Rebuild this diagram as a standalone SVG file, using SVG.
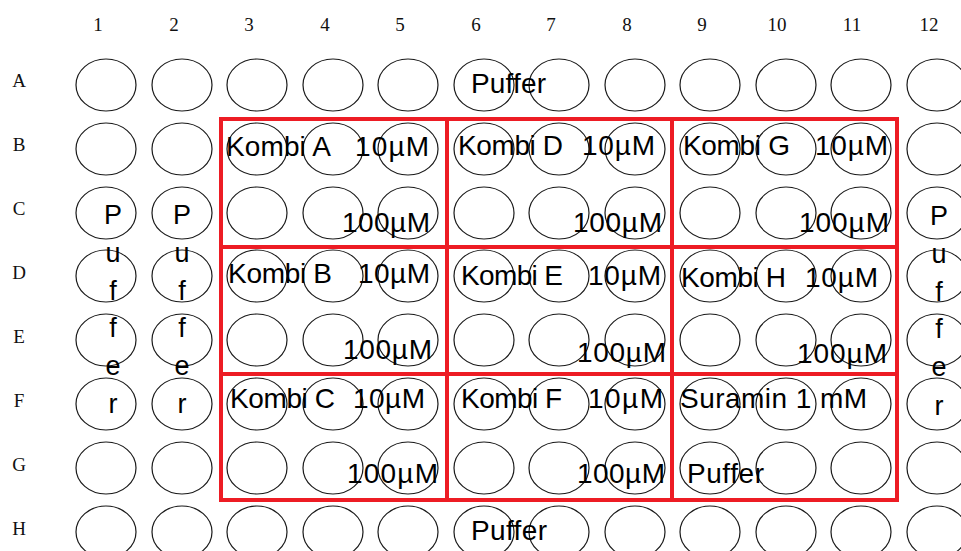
<svg xmlns="http://www.w3.org/2000/svg" xmlns:xlink="http://www.w3.org/1999/xlink" width="961" height="551" viewBox="0 0 961 551">
<style>
.w{fill:none;stroke:#1a1a1a;stroke-width:1.2}
.hd{font-family:"Liberation Serif","Times New Roman",serif;font-size:19px;fill:#111;text-anchor:middle}
.lb{font-family:"Liberation Sans",Arial,sans-serif;font-size:28px;fill:#000}
.vt{font-family:"Liberation Sans",Arial,sans-serif;font-size:27px;fill:#000;text-anchor:middle}
.red{stroke:#ED1C24;stroke-width:4;fill:none;stroke-linecap:square}
</style>
<defs><ellipse id="well" cx="0" cy="0" rx="30" ry="26" class="w"/></defs>
<rect width="961" height="551" fill="#fff"/>
<g id="col-headers">
<text class="hd" x="98" y="31">1</text><text class="hd" x="174" y="31">2</text><text class="hd" x="249" y="31">3</text><text class="hd" x="325" y="31">4</text><text class="hd" x="400" y="31">5</text><text class="hd" x="476" y="31">6</text><text class="hd" x="551" y="31">7</text><text class="hd" x="627" y="31">8</text><text class="hd" x="702" y="31">9</text><text class="hd" x="777" y="31">10</text><text class="hd" x="852" y="31">11</text><text class="hd" x="929" y="31">12</text>
</g>
<g id="row-headers">
<text class="hd" x="19" y="87">A</text><text class="hd" x="19" y="151">B</text><text class="hd" x="19" y="215">C</text><text class="hd" x="19" y="279">D</text><text class="hd" x="19" y="343">E</text><text class="hd" x="19" y="407">F</text><text class="hd" x="19" y="471">G</text><text class="hd" x="19" y="535">H</text>
</g>
<g id="wells">
<g id="A"><use xlink:href="#well" x="106" y="85"/><use xlink:href="#well" x="182" y="85"/><use xlink:href="#well" x="257" y="85"/><use xlink:href="#well" x="333" y="85"/><use xlink:href="#well" x="408" y="85"/><use xlink:href="#well" x="484" y="85"/><use xlink:href="#well" x="559" y="85"/><use xlink:href="#well" x="635" y="85"/><use xlink:href="#well" x="710" y="85"/><use xlink:href="#well" x="786" y="85"/><use xlink:href="#well" x="861" y="85"/><use xlink:href="#well" x="937" y="85"/></g>
<g id="B"><use xlink:href="#well" x="106" y="149"/><use xlink:href="#well" x="182" y="149"/><use xlink:href="#well" x="257" y="149"/><use xlink:href="#well" x="333" y="149"/><use xlink:href="#well" x="408" y="149"/><use xlink:href="#well" x="484" y="149"/><use xlink:href="#well" x="559" y="149"/><use xlink:href="#well" x="635" y="149"/><use xlink:href="#well" x="710" y="149"/><use xlink:href="#well" x="786" y="149"/><use xlink:href="#well" x="861" y="149"/><use xlink:href="#well" x="937" y="149"/></g>
<g id="C"><use xlink:href="#well" x="106" y="213"/><use xlink:href="#well" x="182" y="213"/><use xlink:href="#well" x="257" y="213"/><use xlink:href="#well" x="333" y="213"/><use xlink:href="#well" x="408" y="213"/><use xlink:href="#well" x="484" y="213"/><use xlink:href="#well" x="559" y="213"/><use xlink:href="#well" x="635" y="213"/><use xlink:href="#well" x="710" y="213"/><use xlink:href="#well" x="786" y="213"/><use xlink:href="#well" x="861" y="213"/><use xlink:href="#well" x="937" y="213"/></g>
<g id="D"><use xlink:href="#well" x="106" y="276"/><use xlink:href="#well" x="182" y="276"/><use xlink:href="#well" x="257" y="276"/><use xlink:href="#well" x="333" y="276"/><use xlink:href="#well" x="408" y="276"/><use xlink:href="#well" x="484" y="276"/><use xlink:href="#well" x="559" y="276"/><use xlink:href="#well" x="635" y="276"/><use xlink:href="#well" x="710" y="276"/><use xlink:href="#well" x="786" y="276"/><use xlink:href="#well" x="861" y="276"/><use xlink:href="#well" x="937" y="276"/></g>
<g id="E"><use xlink:href="#well" x="106" y="340"/><use xlink:href="#well" x="182" y="340"/><use xlink:href="#well" x="257" y="340"/><use xlink:href="#well" x="333" y="340"/><use xlink:href="#well" x="408" y="340"/><use xlink:href="#well" x="484" y="340"/><use xlink:href="#well" x="559" y="340"/><use xlink:href="#well" x="635" y="340"/><use xlink:href="#well" x="710" y="340"/><use xlink:href="#well" x="786" y="340"/><use xlink:href="#well" x="861" y="340"/><use xlink:href="#well" x="937" y="340"/></g>
<g id="F"><use xlink:href="#well" x="106" y="404"/><use xlink:href="#well" x="182" y="404"/><use xlink:href="#well" x="257" y="404"/><use xlink:href="#well" x="333" y="404"/><use xlink:href="#well" x="408" y="404"/><use xlink:href="#well" x="484" y="404"/><use xlink:href="#well" x="559" y="404"/><use xlink:href="#well" x="635" y="404"/><use xlink:href="#well" x="710" y="404"/><use xlink:href="#well" x="786" y="404"/><use xlink:href="#well" x="861" y="404"/><use xlink:href="#well" x="937" y="404"/></g>
<g id="G"><use xlink:href="#well" x="106" y="468"/><use xlink:href="#well" x="182" y="468"/><use xlink:href="#well" x="257" y="468"/><use xlink:href="#well" x="333" y="468"/><use xlink:href="#well" x="408" y="468"/><use xlink:href="#well" x="484" y="468"/><use xlink:href="#well" x="559" y="468"/><use xlink:href="#well" x="635" y="468"/><use xlink:href="#well" x="710" y="468"/><use xlink:href="#well" x="786" y="468"/><use xlink:href="#well" x="861" y="468"/><use xlink:href="#well" x="937" y="468"/></g>
<g id="H"><use xlink:href="#well" x="106" y="532"/><use xlink:href="#well" x="182" y="532"/><use xlink:href="#well" x="257" y="532"/><use xlink:href="#well" x="333" y="532"/><use xlink:href="#well" x="408" y="532"/><use xlink:href="#well" x="484" y="532"/><use xlink:href="#well" x="559" y="532"/><use xlink:href="#well" x="635" y="532"/><use xlink:href="#well" x="710" y="532"/><use xlink:href="#well" x="786" y="532"/><use xlink:href="#well" x="861" y="532"/><use xlink:href="#well" x="937" y="532"/></g>
</g>
<g id="grid">
<line class="red" x1="221" y1="119" x2="897" y2="119"/>
<line class="red" x1="221" y1="247" x2="895" y2="247"/>
<line class="red" x1="221" y1="374" x2="895" y2="374"/>
<line class="red" x1="221" y1="500" x2="897" y2="500"/>
<line class="red" x1="221" y1="119" x2="221" y2="500"/>
<line class="red" x1="447" y1="119" x2="447" y2="500"/>
<line class="red" x1="672" y1="119" x2="672" y2="500"/>
<line class="red" x1="897" y1="119" x2="897" y2="500"/>
</g>
<g id="buffer-top"><text class="lb" x="471" y="93" textLength="75">Puffer</text></g>
<g id="buffer-bottom"><text class="lb" x="471" y="540" textLength="76">Puffer</text></g>
<g id="buffer-col1"><text class="vt" x="113" y="224">P<tspan x="113" y="262">u</tspan><tspan x="113" y="300">f</tspan><tspan x="113" y="337">f</tspan><tspan x="113" y="375">e</tspan><tspan x="113" y="413">r</tspan></text></g>
<g id="buffer-col2"><text class="vt" x="182" y="224">P<tspan x="182" y="262">u</tspan><tspan x="182" y="300">f</tspan><tspan x="182" y="337">f</tspan><tspan x="182" y="375">e</tspan><tspan x="182" y="413">r</tspan></text></g>
<g id="buffer-col12"><text class="vt" x="939" y="225">P<tspan x="939" y="263">u</tspan><tspan x="939" y="301">f</tspan><tspan x="939" y="338">f</tspan><tspan x="939" y="376">e</tspan><tspan x="939" y="415">r</tspan></text></g>
<g id="kombi-A"><text class="lb" x="226" y="156" textLength="105">Kombi A</text><text class="lb" x="355" y="156" textLength="74">10µM</text><text class="lb" x="342" y="232" textLength="88">100µM</text></g>
<g id="kombi-D"><text class="lb" x="458" y="155" textLength="105">Kombi D</text><text class="lb" x="582" y="155" textLength="73">10µM</text><text class="lb" x="573" y="232" textLength="89">100µM</text></g>
<g id="kombi-G"><text class="lb" x="683" y="155" textLength="107">Kombi G</text><text class="lb" x="815" y="155" textLength="73">10µM</text><text class="lb" x="799" y="232" textLength="90">100µM</text></g>
<g id="kombi-B"><text class="lb" x="228" y="283" textLength="104">Kombi B</text><text class="lb" x="358" y="283" textLength="72">10µM</text><text class="lb" x="343" y="359" textLength="89">100µM</text></g>
<g id="kombi-E"><text class="lb" x="461" y="285" textLength="102">Kombi E</text><text class="lb" x="588" y="285" textLength="73">10µM</text><text class="lb" x="577" y="362" textLength="89">100µM</text></g>
<g id="kombi-H"><text class="lb" x="681" y="287" textLength="105">Kombi H</text><text class="lb" x="805" y="287" textLength="73">10µM</text><text class="lb" x="797" y="363" textLength="90">100µM</text></g>
<g id="kombi-C"><text class="lb" x="230" y="408" textLength="105">Kombi C</text><text class="lb" x="353" y="408" textLength="72">10µM</text><text class="lb" x="347" y="483" textLength="91">100µM</text></g>
<g id="kombi-F"><text class="lb" x="461" y="408" textLength="101">Kombi F</text><text class="lb" x="588" y="408" textLength="75">10µM</text><text class="lb" x="577" y="483" textLength="88">100µM</text></g>
<g id="control"><text class="lb" x="680" y="408" textLength="187">Suramin 1 mM</text><text class="lb" x="687" y="483" textLength="77">Puffer</text></g>
</svg>
